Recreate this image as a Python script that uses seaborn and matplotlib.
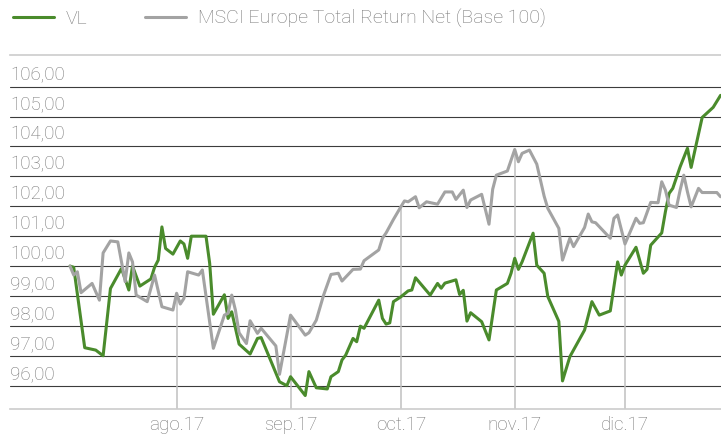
import pandas as pd
import numpy as np
import matplotlib.pyplot as plt
import matplotlib.dates as mdates
import seaborn as sns

# VL (valor liquidativo), base 100
vl_dates = [
    "2017-07-03", "2017-07-04", "2017-07-07", "2017-07-10", "2017-07-12", "2017-07-14",
    "2017-07-17", "2017-07-19", "2017-07-20", "2017-07-22", "2017-07-25", "2017-07-26",
    "2017-07-27", "2017-07-28", "2017-07-29", "2017-07-31", "2017-08-02", "2017-08-03",
    "2017-08-04", "2017-08-05", "2017-08-09", "2017-08-10", "2017-08-11", "2017-08-14",
    "2017-08-15", "2017-08-16", "2017-08-18", "2017-08-21", "2017-08-23", "2017-08-24",
    "2017-08-29", "2017-08-31", "2017-09-01", "2017-09-05", "2017-09-06", "2017-09-08",
    "2017-09-11", "2017-09-12", "2017-09-14", "2017-09-15", "2017-09-16", "2017-09-18",
    "2017-09-19", "2017-09-20", "2017-09-21", "2017-09-25", "2017-09-26", "2017-09-27",
    "2017-09-28", "2017-09-29", "2017-10-01", "2017-10-03", "2017-10-04", "2017-10-05",
    "2017-10-09", "2017-10-11", "2017-10-12", "2017-10-13", "2017-10-16", "2017-10-17",
    "2017-10-18", "2017-10-19", "2017-10-20", "2017-10-23", "2017-10-25", "2017-10-27",
    "2017-10-30", "2017-10-31", "2017-11-01", "2017-11-02", "2017-11-03", "2017-11-06",
    "2017-11-07", "2017-11-09", "2017-11-10", "2017-11-13", "2017-11-14", "2017-11-16",
    "2017-11-20", "2017-11-22", "2017-11-24", "2017-11-27", "2017-11-29", "2017-11-30",
    "2017-12-01", "2017-12-04", "2017-12-06", "2017-12-07", "2017-12-08", "2017-12-11",
    "2017-12-12", "2017-12-13", "2017-12-14", "2017-12-16", "2017-12-18", "2017-12-19",
    "2017-12-22", "2017-12-25", "2017-12-27",
]
vl_values = [
    100.0, 99.96, 97.27, 97.19, 97.0, 99.25,
    99.92, 99.2, 100.0, 99.33, 99.57, 99.96,
    100.2, 101.31, 100.59, 100.4, 100.84, 100.74,
    100.26, 101.0, 101.0, 100.09, 98.39, 99.04,
    98.25, 98.47, 97.39, 97.06, 97.58, 97.61,
    96.13, 96.0, 96.3, 95.67, 96.47, 95.93,
    95.89, 96.3, 96.47, 96.86, 97.02, 97.58,
    97.47, 97.99, 97.92, 98.86, 98.25, 98.06,
    98.1, 98.81, 98.97, 99.17, 99.2, 99.61,
    99.03, 99.42, 99.26, 99.43, 99.54, 99.05,
    99.19, 98.16, 98.44, 98.14, 97.53, 99.2,
    99.42, 99.76, 100.26, 99.89, 100.14, 101.1,
    100.03, 99.76, 98.98, 98.15, 96.16, 96.97,
    97.86, 98.81, 98.36, 98.5, 100.14, 99.7,
    100.03, 100.63, 99.76, 99.89, 100.7, 101.11,
    101.82, 102.43, 102.6, 103.32, 103.94, 103.3,
    104.97, 105.31, 105.71,
]

# MSCI Europe Total Return Net, base 100
msci_dates = [
    "2017-07-03", "2017-07-04", "2017-07-05", "2017-07-06", "2017-07-09", "2017-07-11",
    "2017-07-12", "2017-07-14", "2017-07-16", "2017-07-18", "2017-07-19", "2017-07-20",
    "2017-07-21", "2017-07-24", "2017-07-26", "2017-07-28", "2017-07-31", "2017-08-01",
    "2017-08-02", "2017-08-03", "2017-08-04", "2017-08-07", "2017-08-08", "2017-08-11",
    "2017-08-14", "2017-08-15", "2017-08-16", "2017-08-17", "2017-08-18", "2017-08-20",
    "2017-08-21", "2017-08-23", "2017-08-24", "2017-08-28", "2017-08-29", "2017-09-01",
    "2017-09-05", "2017-09-06", "2017-09-08", "2017-09-10", "2017-09-12", "2017-09-14",
    "2017-09-15", "2017-09-18", "2017-09-20", "2017-09-21", "2017-09-25", "2017-09-26",
    "2017-09-27", "2017-09-29", "2017-10-01", "2017-10-02", "2017-10-03", "2017-10-05",
    "2017-10-06", "2017-10-08", "2017-10-11", "2017-10-13", "2017-10-15", "2017-10-16",
    "2017-10-18", "2017-10-19", "2017-10-20", "2017-10-23", "2017-10-25", "2017-10-26",
    "2017-10-27", "2017-10-30", "2017-11-01", "2017-11-02", "2017-11-03", "2017-11-05",
    "2017-11-07", "2017-11-09", "2017-11-10", "2017-11-13", "2017-11-14", "2017-11-16",
    "2017-11-17", "2017-11-20", "2017-11-21", "2017-11-22", "2017-11-23", "2017-11-27",
    "2017-11-28", "2017-11-29", "2017-12-01", "2017-12-04", "2017-12-05", "2017-12-06",
    "2017-12-08", "2017-12-10", "2017-12-11", "2017-12-12", "2017-12-13", "2017-12-15",
    "2017-12-16", "2017-12-17", "2017-12-18", "2017-12-19", "2017-12-21", "2017-12-22",
    "2017-12-26", "2017-12-27",
]
msci_values = [
    100.0, 99.7, 99.81, 99.11, 99.42, 98.86,
    100.44, 100.84, 100.81, 99.48, 100.44, 100.14,
    99.03, 98.81, 99.7, 98.64, 98.53, 99.09,
    98.73, 98.92, 99.81, 99.7, 99.87, 97.25,
    98.36, 98.42, 99.03, 98.53, 97.77, 97.41,
    98.17, 97.75, 97.92, 97.33, 96.38, 98.36,
    97.69, 97.77, 98.19, 99.03, 99.72, 99.76,
    99.5, 99.89, 99.9, 100.18, 100.54, 100.93,
    101.11, 101.56, 101.98, 102.18, 102.15, 102.32,
    101.95, 102.15, 102.07, 102.48, 102.48, 102.23,
    102.54, 101.96, 102.21, 102.4, 101.4, 102.57,
    103.04, 103.18, 103.9, 103.49, 103.77, 103.88,
    103.41, 102.34, 101.93, 101.26, 100.2, 100.93,
    100.65, 101.29, 101.74, 101.48, 101.45, 100.93,
    101.6, 101.71, 100.74, 101.6, 101.43, 101.45,
    102.13, 102.12, 102.82, 102.54, 102.04, 101.96,
    102.54, 103.04, 102.48, 101.98, 102.6, 102.46,
    102.46, 102.32,
]

series_names = ["VL", "MSCI Europe Total Return Net (Base 100)"]
series_colors = ["#4a8b2c", "#a3a3a3"]
y_ticks = [96, 97, 98, 99, 100, 101, 102, 103, 104, 105, 106]
month_starts = ["2017-08-01", "2017-09-01", "2017-10-01", "2017-11-01", "2017-12-01"]
month_labels = ["ago.17", "sep.17", "oct.17", "nov.17", "dic.17"]

df = pd.concat([
    pd.DataFrame({"fecha": pd.to_datetime(vl_dates), "valor": vl_values, "serie": series_names[0]}),
    pd.DataFrame({"fecha": pd.to_datetime(msci_dates), "valor": msci_values, "serie": series_names[1]}),
], ignore_index=True)

sns.set_theme(style="white")
plt.rcParams["font.family"] = ["Roboto", "DejaVu Sans"]
label_color = "#777777"

fig = plt.figure(figsize=(7.21, 4.41), dpi=100)
ax = fig.add_axes([10 / 721, 31.7 / 441, 711 / 721, 354.3 / 441])

# líneas verticales de inicio de mes, hasta el valor del índice
msci_num = mdates.date2num(pd.to_datetime(msci_dates))
ms = pd.to_datetime(month_starts)
drop_vals = np.interp(mdates.date2num(ms), msci_num, msci_values)
ax.vlines(ms, 0, drop_vals, color="#c0c0c0", lw=1.1, zorder=1)

sns.lineplot(data=df, x="fecha", y="valor", hue="serie", palette=series_colors,
             estimator=None, sort=False, lw=2.2, ax=ax, zorder=3)

ax.set_xlim(pd.Timestamp("2017-06-16 16:00"), pd.Timestamp("2017-12-27 03:00"))
ax.set_ylim(95.21, 107.06)

ax.set_yticks(y_ticks)
ax.yaxis.grid(True, color="#3c3c3c", lw=0.8)
ax.set_axisbelow(True)
ax.tick_params(axis="y", left=False, labelleft=False)
for v in y_ticks:
    ax.annotate(f"{v:.2f}".replace(".", ","), xy=(0, v), xycoords=ax.get_yaxis_transform(),
                xytext=(0, 2), textcoords="offset points", ha="left", va="bottom",
                fontsize=13.5, fontweight="light", color=label_color)

ax.set_xticks(ms)
ax.set_xticklabels(month_labels)
ax.tick_params(axis="x", length=0, pad=5, labelsize=13.5, labelcolor=label_color)
for t in ax.get_xticklabels():
    t.set_fontweight("light")
ax.set_xlabel("")
ax.set_ylabel("")

for side in ["left", "right"]:
    ax.spines[side].set_visible(False)
for side in ["top", "bottom"]:
    ax.spines[side].set_color("#cccccc")
    ax.spines[side].set_linewidth(1.2)

sns.move_legend(ax, "center left", bbox_to_anchor=(13 / 721, 1 - 19 / 441),
                bbox_transform=fig.transFigure, ncol=2, frameon=False, title=None,
                borderpad=0, borderaxespad=0, handlelength=2.1, handletextpad=0.6,
                columnspacing=3.0, fontsize=14)
for t in ax.get_legend().get_texts():
    t.set_color(label_color)
    t.set_fontweight("light")
for h in ax.get_legend().get_lines():
    h.set_linewidth(2.2)

fig.savefig("out.png", dpi=100)
